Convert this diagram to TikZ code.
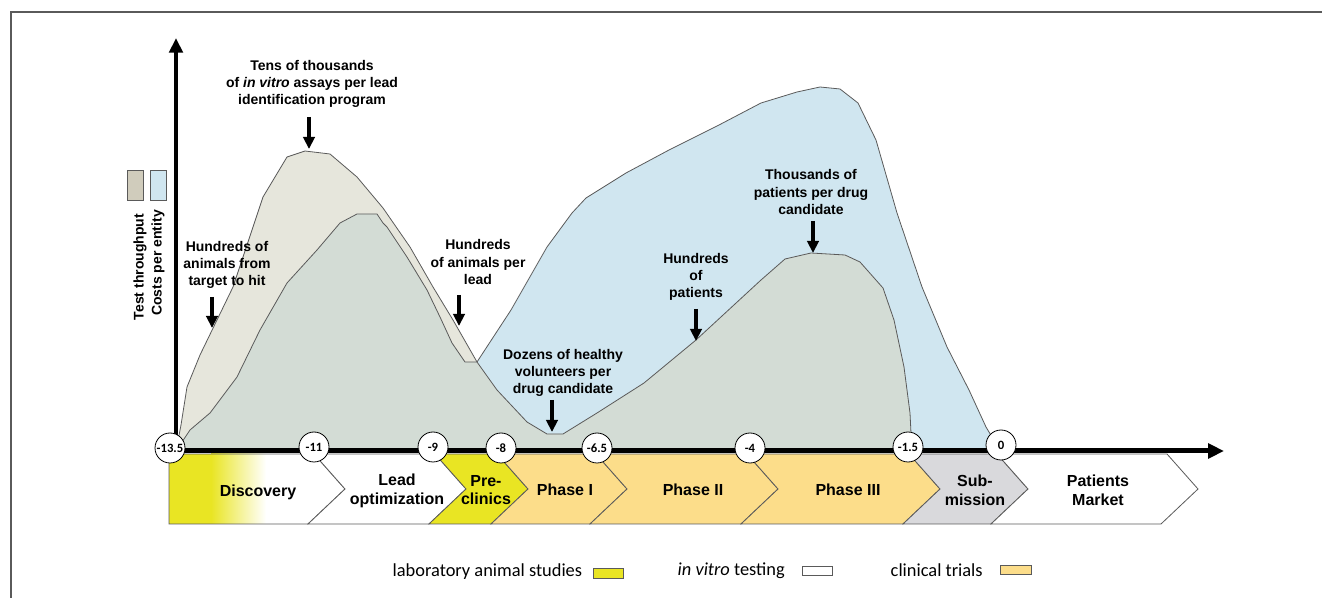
\documentclass[tikz,border=0pt]{standalone}
\usepackage{fontspec}
\setmainfont{Liberation Sans}
\newfontfamily\calfont{Carlito}
\usetikzlibrary{arrows.meta}

\definecolor{animalyellow}{RGB}{233,229,35}
\definecolor{clinicalorange}{RGB}{252,221,138}
\definecolor{subgray}{RGB}{217,217,220}
\definecolor{throughbeige}{RGB}{230,230,220}
\definecolor{costblue}{RGB}{208,230,240}
\definecolor{overlapgray}{RGB}{211,220,213}
\definecolor{swatchbeige}{RGB}{208,204,188}
\definecolor{edgegray}{RGB}{90,90,90}

% outlines of the two areas (pixel coordinates)
\newcommand\costline{(176,451) -- (190,430) -- (210,413) -- (237,377) -- (260,330) -- (287,283) -- (317,250) -- (340,223) -- (357,214) -- (377,214) -- (383,223) -- (387,227) -- (407,257) -- (427,290) -- (440,317) -- (452,343) -- (465,362) -- (477,362) -- (511,310) -- (547,247) -- (572,213) -- (586,198) -- (626,173) -- (669,150) -- (719,125) -- (761,103) -- (797,92) -- (820,87) -- (840,89) -- (858,103) -- (876,140) -- (897,213) -- (922,287) -- (947,347) -- (969,390) -- (986,427) -- (992,437) -- (997,451)}
\newcommand\throughline{(176,451) -- (181,425) -- (187,387) -- (200,355) -- (233,287) -- (263,197) -- (287,157) -- (305,151) -- (330,154) -- (357,177) -- (383,208) -- (410,247) -- (433,287) -- (453,320) -- (477,362) -- (497,390) -- (527,422) -- (547,434) -- (563,434) -- (597,413) -- (644,383) -- (696,340) -- (761,280) -- (785,259) -- (811,253) -- (845,255) -- (860,262) -- (883,288) -- (894,320) -- (904,367) -- (910,413) -- (911,433) -- (911,451)}

\begin{document}
\begin{tikzpicture}[
    x=0.75pt, y=-0.75pt,
    curve/.style={draw=edgegray, line width=0.6pt, line join=round},
    chevron/.style={draw=edgegray, line width=0.6pt},
    axis/.style={line width=3.5pt},
    tick/.style={circle, draw=black, fill=white, line width=0.6pt, minimum size=22.5pt, inner sep=0pt, font=\calfont\bfseries\fontsize{9.5}{10}\selectfont},
    phase/.style={align=center, font=\bfseries\fontsize{12}{14}\selectfont},
    note/.style={align=center, font=\bfseries\fontsize{10.5}{13}\selectfont},
    pointer/.style={line width=2.4pt, -{Triangle[length=9pt,width=8.5pt]}},
    swatch/.style={draw=edgegray, line width=0.5pt, inner sep=0pt},
    legend/.style={anchor=west, font=\calfont\fontsize{13.8}{15}\selectfont}
  ]
  \useasboundingbox (0,0) rectangle (1322,598);
  \draw[edgegray, line width=1.5pt] (11,598) -- (11,12) -- (1322,12);

  % areas
  \fill[costblue] \costline -- cycle;
  \fill[throughbeige] \throughline -- cycle;
  \begin{scope}
    \clip \costline -- cycle;
    \fill[overlapgray] \throughline -- cycle;
  \end{scope}
  \draw[curve] \costline;
  \draw[curve] \throughline;

  % stages
  \fill[white] (169,454) -- (314,454) -- (345,489) -- (308,524) -- (169,524) -- cycle;
  \fill[animalyellow] (169,454) rectangle (212,524);
  \shade[left color=animalyellow, right color=white] (211,454) rectangle (266,524);
  \draw[chevron] (169,454) -- (314,454) -- (345,489) -- (308,524) -- (169,524) -- cycle;
  \foreach \a/\b/\c in {345/466/white, 466/528/animalyellow, 528/627/clinicalorange,
      627/778/clinicalorange, 778/940/clinicalorange, 940/1028/subgray, 1028/1198/white}
    \filldraw[chevron, fill=\c] (\a-31,454) -- (\b-31,454) -- (\b,489) -- (\b-37,524)
      -- (\a-37,524) -- (\a,489) -- cycle;

  \node[phase] (discovery) at (258,492) {Discovery};
  \node[phase] (leadopt) at (397,491) {Lead\\optimization};
  \node[phase] (preclin) at (486,490) {Pre-\\clinics};
  \node[phase] (phase1) at (565,490) {Phase I};
  \node[phase] (phase2) at (693,490) {Phase II};
  \node[phase] (phase3) at (848,490) {Phase III};
  \node[phase] (submission) at (975,490) {Sub-\\mission};
  \node[phase] (market) at (1098,490) {Patients\\Market};

  % axes
  \draw[axis, -{Triangle[length=11pt,width=10pt]}] (176,453) -- (176,38);
  \draw[axis, line width=3.75pt, -{Triangle[length=12pt,width=11pt]}] (168,451) -- (1224,451);

  \foreach \x/\y/\v [count=\i] in {170/448/-13.5, 314/447/-11, 433/447/-9, 501/448/-8,
      597/448/-6.5, 750/448/-4, 908/447/-1.5, 1001/445/0}
    \node[tick] (tick\i) at (\x,\y) {\v};

  % y legend
  \node[swatch, fill=swatchbeige, minimum width=12pt, minimum height=22.5pt] (swbeige) at (135,185) {};
  \node[swatch, fill=costblue, minimum width=12pt, minimum height=22.5pt] (swblue) at (158,185) {};
  \node[rotate=90, font=\bfseries\fontsize{10.5}{12}\selectfont] (throughlbl) at (140,267) {Test throughput};
  \node[rotate=90, font=\bfseries\fontsize{10.5}{12}\selectfont] (costlbl) at (158,263) {Costs per entity};

  % notes
  \node[note] (tens) at (312,84) {Tens of thousands\\of \textit{in vitro} assays per lead\\identification program};
  \node[note] (target) at (227,265) {Hundreds of\\animals from\\target to hit};
  \node[note] (perlead) at (478,262) {Hundreds\\of animals per\\lead};
  \node[note] (dozens) at (563,373) {Dozens of healthy\\volunteers per\\drug candidate};
  \node[note] (patients) at (696,277) {Hundreds\\of\\patients};
  \node[note] (thousands) at (811,192) {Thousands of\\patients per drug\\candidate};

  \coordinate (tensA) at (309,117);     \coordinate (tensB) at (309,149);
  \coordinate (targetA) at (212,297);   \coordinate (targetB) at (212,328);
  \coordinate (perleadA) at (459,295);  \coordinate (perleadB) at (459,326);
  \coordinate (dozensA) at (552,400);   \coordinate (dozensB) at (552,432);
  \coordinate (patientsA) at (696,309); \coordinate (patientsB) at (696,341);
  \coordinate (thousA) at (813,221);    \coordinate (thousB) at (813,253);
  \draw[pointer] (tensA) -- (tensB);
  \draw[pointer] (targetA) -- (targetB);
  \draw[pointer] (perleadA) -- (perleadB);
  \draw[pointer] (dozensA) -- (dozensB);
  \draw[pointer] (patientsA) -- (patientsB);
  \draw[pointer] (thousA) -- (thousB);

  % bottom legend
  \node[legend] (labanimal) at (388,572) {laboratory animal studies};
  \node[swatch, fill=animalyellow, minimum width=22.5pt, minimum height=7.5pt] (swyellow) at (608,573) {};
  \node[legend] (invitro) at (673,571) {\textit{in vitro} testing};
  \node[swatch, fill=white, minimum width=22.5pt, minimum height=7pt] (swwhite) at (817,571) {};
  \node[legend] (clinical) at (886,570) {clinical trials};
  \node[swatch, fill=clinicalorange, minimum width=23pt, minimum height=7pt] (sworange) at (1016,570) {};
\end{tikzpicture}
\end{document}
